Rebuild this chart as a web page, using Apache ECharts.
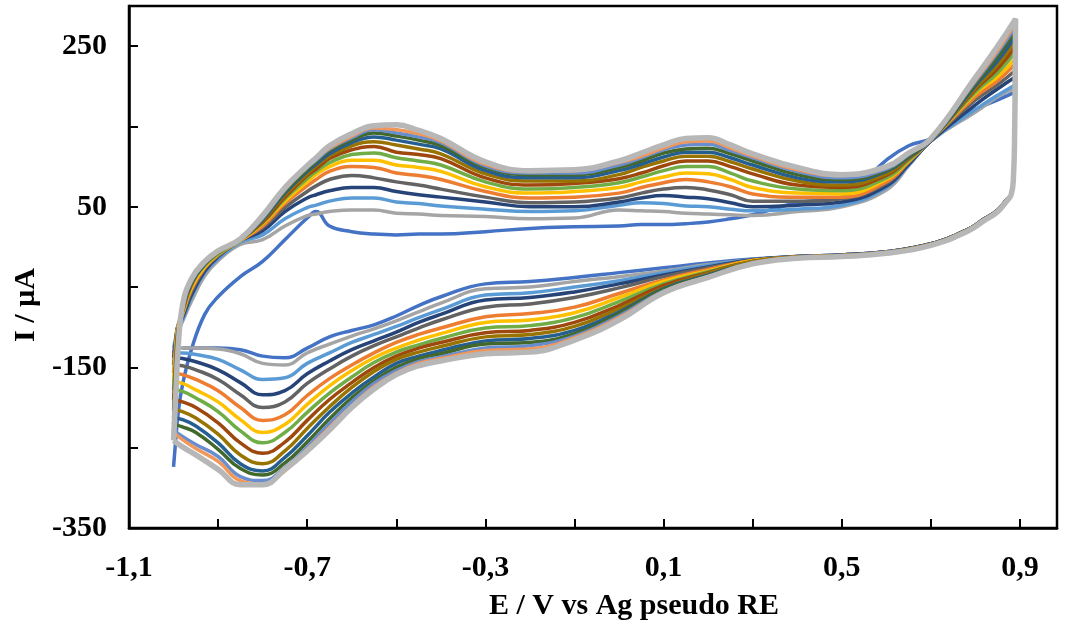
<!DOCTYPE html>
<html><head><meta charset="utf-8">
<script src="https://cdn.jsdelivr.net/npm/echarts@6/dist/echarts.min.js"></script>
<style>html,body{margin:0;padding:0;background:#fff}#c{width:1067px;height:632px}</style>
</head><body><div id="c"></div><script>
// Potential grid (V vs Ag pseudo RE)
const E_fwd = [-1.0, -0.995, -0.99, -0.98, -0.96, -0.93, -0.9, -0.85, -0.8, -0.75, -0.7, -0.68, -0.65, -0.6, -0.55, -0.5, -0.45, -0.4, -0.3, -0.2, -0.1, 0, 0.05, 0.1, 0.15, 0.2, 0.25, 0.3, 0.4, 0.5, 0.6, 0.65, 0.7, 0.8, 0.85, 0.89];
const E_rev = [0.888, 0.885, 0.88, 0.87, 0.85, 0.82, 0.78, 0.7, 0.6, 0.5, 0.4, 0.3, 0.2, 0.1, 0, -0.1, -0.2, -0.3, -0.4, -0.45, -0.5, -0.55, -0.6, -0.65, -0.7, -0.75, -0.8, -0.85, -0.9, -0.95, -0.98, -1.0];

// Currents (µA), forward (anodic) and reverse (cathodic) branch per cycle
const I_fwd_01 = [-274, -240, -209, -172, -128, -84, -62, -37, -18, 9, 36, 44, 26, 19, 16, 15, 16, 16, 19, 23, 25, 26, 28, 28, 29, 31, 35, 40, 55, 62, 108, 126, 135, 171, 183, 193];
const I_rev_01 = [146, 84, 65, 59, 46, 35, 21, 4, -6, -10, -12, -15, -20, -26, -32, -38, -43, -46, -62, -73, -86, -97, -104, -112, -126, -138, -136, -128, -126, -126, -126, null];
const I_fwd_02 = [-126, -113, -106, -93, -68, -36, -17, 3, 9, 26, 39, 41, 44, 46, 46, 42, 41, 39, 38, 35, 36, 46, 45, 44, 42, 41, 40, 39, 44, 50, 71, 101, 132, 168, 187, 198];
const I_rev_02 = [146, 84, 65, 59, 46, 35, 21, 4, -6, -10, -12, -16, -22, -30, -37, -43, -50, -52, -70, -81, -92, -102, -111, -121, -132, -147, -145, -133, -127, -126, -126, -126];
const I_fwd_03 = [-132, -113, -98, -91, -63, -32, -15, 6, 15, 35, 49, 52, 57, 61, 61, 56, 54, 51, 47, 44, 45, 52, 55, 54, 51, 50, 47, 45, 47, 52, 74, 102, 132, 171, 189, 202];
const I_rev_03 = [146, 84, 65, 59, 46, 35, 21, 4, -6, -10, -12, -16, -23, -32, -42, -50, -57, -60, -78, -88, -99, -109, -119, -132, -145, -163, -165, -153, -140, -134, -132, -132];
const I_fwd_04 = [-138, -116, -98, -88, -60, -30, -12, 8, 20, 44, 61, 65, 70, 74, 74, 69, 65, 62, 56, 50, 50, 56, 61, 64, 62, 60, 55, 50, 52, 56, 76, 103, 132, 177, 197, 212];
const I_rev_04 = [146, 84, 65, 59, 46, 35, 21, 4, -6, -10, -12, -16, -25, -35, -46, -56, -63, -66, -84, -94, -106, -117, -128, -142, -158, -179, -184, -169, -153, -143, -139, -138];
const I_fwd_05 = [-147, -118, -98, -86, -56, -27, -11, 8, 24, 49, 69, 76, 84, 89, 86, 81, 77, 72, 62, 55, 56, 61, 67, 72, 74, 71, 65, 57, 57, 60, 79, 105, 133, 183, 202, 220];
const I_rev_05 = [146, 84, 65, 59, 46, 35, 21, 4, -6, -10, -12, -17, -26, -37, -51, -63, -71, -75, -91, -101, -112, -123, -136, -152, -170, -193, -200, -184, -165, -153, -148, -147];
const I_fwd_06 = [-157, -122, -98, -84, -53, -26, -10, 8, 26, 54, 76, 84, 94, 100, 99, 92, 89, 84, 69, 61, 62, 67, 74, 80, 84, 81, 75, 66, 62, 62, 81, 106, 133, 187, 207, 228];
const I_rev_06 = [146, 84, 65, 58, 45, 34, 20, 3, -7, -11, -13, -17, -28, -41, -58, -75, -83, -87, -101, -109, -119, -132, -147, -164, -185, -209, -216, -200, -179, -165, -159, -157];
const I_fwd_07 = [-168, -128, -99, -83, -51, -25, -9, 8, 29, 57, 81, 90, 100, 108, 108, 102, 99, 94, 75, 67, 69, 74, 81, 87, 92, 91, 84, 74, 67, 66, 84, 107, 133, 191, 212, 235];
const I_rev_07 = [146, 84, 65, 58, 45, 34, 20, 3, -7, -11, -13, -17, -30, -43, -63, -82, -91, -94, -108, -116, -126, -138, -154, -173, -196, -221, -231, -215, -193, -178, -170, -168];
const I_fwd_08 = [-178, -134, -101, -82, -48, -23, -9, 9, 30, 60, 85, 94, 105, 115, 117, 111, 107, 102, 81, 72, 74, 80, 87, 95, 100, 100, 92, 82, 72, 70, 86, 108, 133, 193, 217, 243];
const I_rev_08 = [146, 84, 65, 58, 45, 34, 20, 3, -7, -11, -13, -18, -31, -46, -68, -88, -98, -101, -114, -122, -131, -144, -162, -182, -206, -231, -244, -229, -205, -188, -180, -178];
const I_fwd_09 = [-190, -143, -103, -81, -47, -22, -7, 9, 31, 62, 89, 97, 110, 121, 125, 118, 115, 110, 86, 77, 79, 85, 92, 101, 107, 107, 100, 91, 77, 74, 89, 110, 133, 196, 222, 250];
const I_rev_09 = [146, 84, 65, 58, 45, 34, 20, 3, -7, -11, -13, -18, -32, -48, -73, -94, -104, -107, -119, -126, -136, -150, -169, -190, -216, -243, -257, -244, -219, -200, -193, -190];
const I_fwd_10 = [-203, -150, -107, -79, -46, -21, -7, 9, 33, 65, 91, 101, 113, 126, 131, 127, 122, 116, 91, 82, 82, 90, 99, 107, 113, 113, 106, 97, 82, 77, 91, 111, 133, 198, 227, 257];
const I_rev_10 = [146, 84, 65, 58, 45, 34, 20, 3, -7, -11, -13, -18, -33, -51, -77, -99, -109, -112, -124, -131, -140, -155, -175, -199, -226, -254, -270, -259, -233, -213, -205, -203];
const I_fwd_11 = [-213, -157, -111, -78, -45, -21, -6, 9, 34, 67, 94, 103, 116, 130, 137, 133, 128, 122, 95, 86, 86, 95, 103, 112, 118, 118, 111, 102, 86, 81, 94, 112, 133, 201, 232, 263];
const I_rev_11 = [146, 84, 65, 57, 44, 33, 19, 2, -8, -12, -14, -20, -35, -52, -81, -104, -114, -117, -129, -136, -145, -162, -182, -206, -235, -262, -279, -270, -244, -223, -215, -213];
const I_fwd_12 = [-221, -163, -114, -77, -43, -20, -6, 9, 35, 69, 96, 106, 120, 133, 142, 138, 133, 126, 99, 90, 90, 99, 107, 117, 122, 123, 116, 107, 90, 84, 95, 113, 135, 203, 237, 269];
const I_rev_12 = [146, 84, 65, 57, 44, 33, 19, 2, -8, -12, -14, -20, -36, -53, -83, -108, -119, -121, -133, -139, -150, -167, -188, -214, -243, -269, -284, -276, -252, -231, -224, -221];
const I_fwd_13 = [-228, -169, -118, -76, -42, -20, -6, 9, 36, 71, 99, 108, 122, 136, 146, 142, 137, 130, 101, 92, 92, 102, 111, 121, 127, 128, 120, 111, 94, 86, 97, 115, 135, 206, 242, 274];
const I_rev_13 = [146, 84, 65, 57, 44, 33, 19, 2, -8, -12, -14, -20, -37, -55, -86, -111, -123, -126, -137, -143, -154, -170, -193, -220, -249, -275, -291, -286, -261, -246, -236, -228];
const I_fwd_14 = [-231, -174, -122, -75, -41, -18, -5, 10, 38, 72, 100, 110, 123, 138, 148, 146, 141, 132, 103, 94, 95, 105, 113, 123, 131, 132, 123, 113, 96, 89, 99, 116, 135, 208, 245, 279];
const I_rev_14 = [146, 84, 65, 57, 44, 33, 19, 2, -8, -12, -14, -21, -37, -56, -88, -113, -127, -129, -139, -145, -157, -174, -198, -225, -252, -279, -295, -291, -267, -251, -240, -231];
const I_fwd_15 = [-241, -184, -128, -73, -40, -18, -5, 10, 39, 74, 101, 111, 126, 141, 151, 152, 145, 135, 106, 95, 96, 107, 117, 127, 135, 136, 127, 116, 99, 90, 100, 117, 135, 211, 250, 284];
const I_rev_15 = [146, 84, 65, 57, 44, 33, 19, 2, -8, -12, -14, -21, -38, -57, -91, -116, -131, -133, -142, -148, -159, -177, -200, -228, -254, -277, -296, -296, -277, -259, -249, -241];

const cycleColors = ['#4472C4', '#A5A5A5', '#5B9BD5', '#264478', '#636363', '#ED7D31', '#FFC000', '#70AD47', '#9E480E', '#997300', '#255E91', '#43682B', '#698ED0', '#F1975A', '#B7B7B7'];
const yTickLabels = [-350, -150, 50, 250];

const cycles = [
  [I_fwd_01, I_rev_01], [I_fwd_02, I_rev_02], [I_fwd_03, I_rev_03], [I_fwd_04, I_rev_04], [I_fwd_05, I_rev_05],
  [I_fwd_06, I_rev_06], [I_fwd_07, I_rev_07], [I_fwd_08, I_rev_08], [I_fwd_09, I_rev_09], [I_fwd_10, I_rev_10],
  [I_fwd_11, I_rev_11], [I_fwd_12, I_rev_12], [I_fwd_13, I_rev_13], [I_fwd_14, I_rev_14], [I_fwd_15, I_rev_15]
];

const FONT = '"Liberation Serif", "Times New Roman", serif';
const chart = echarts.init(document.getElementById('c'), null, {renderer: 'canvas'});

const series = cycles.map((c, i) => ({
  type: 'line',
  name: 'Cycle ' + (i + 1),
  data: E_fwd.map((e, k) => [e, c[0][k]]).concat(E_rev.map((e, k) => [e, c[1][k]])),
  symbol: 'none',
  smooth: 0.45,
  connectNulls: false,
  lineStyle: {color: cycleColors[i], width: i === cycles.length - 1 ? 5.5 : 3.5},
  itemStyle: {color: cycleColors[i]},
  z: 2 + i
}));

chart.setOption({
  animation: false,
  grid: {left: 129, right: 10, top: 6, bottom: 104, show: true, borderColor: '#000', borderWidth: 2.5},
  xAxis: {
    type: 'value', min: -1.1, max: 0.983, interval: 0.2,
    axisLine: {show: true, onZero: false, lineStyle: {color: '#000', width: 2.5}},
    axisTick: {show: true, inside: true, length: 9, lineStyle: {color: '#000', width: 2}},
    splitLine: {show: false},
    axisLabel: {
      color: '#000', fontFamily: FONT, fontWeight: 'bold', fontSize: 30, margin: 25,
      showMaxLabel: false,
      formatter: function (v) {
        const k = Math.round((v + 1.1) / 0.2);
        if (Math.abs(v - (-1.1 + 0.2 * k)) > 1e-6 || k % 2 !== 0) return '';
        return (-1.1 + 0.2 * k).toFixed(1).replace('.', ',');
      }
    },
    name: 'E / V vs Ag pseudo RE', nameLocation: 'middle', nameGap: 63,
    nameTextStyle: {color: '#000', fontFamily: FONT, fontWeight: 'bold', fontSize: 30, padding: [0, 0, 0, 82]}
  },
  yAxis: {
    type: 'value', min: -350, max: 300, interval: 100,
    axisLine: {show: true, onZero: false, lineStyle: {color: '#000', width: 2.5}},
    axisTick: {show: true, inside: true, length: 9, lineStyle: {color: '#000', width: 2}},
    splitLine: {show: false},
    axisLabel: {
      color: '#000', fontFamily: FONT, fontWeight: 'bold', fontSize: 30, margin: 22,
      formatter: function (v) { return yTickLabels.indexOf(Math.round(v)) >= 0 ? String(Math.round(v)) : ''; }
    },
    name: 'I / µA', nameLocation: 'middle', nameGap: 88, nameRotate: 90,
    nameTextStyle: {color: '#000', fontFamily: FONT, fontWeight: 'bold', fontSize: 30, padding: [0, 76, 0, 0]}
  },
  series: series
});
</script></body></html>
